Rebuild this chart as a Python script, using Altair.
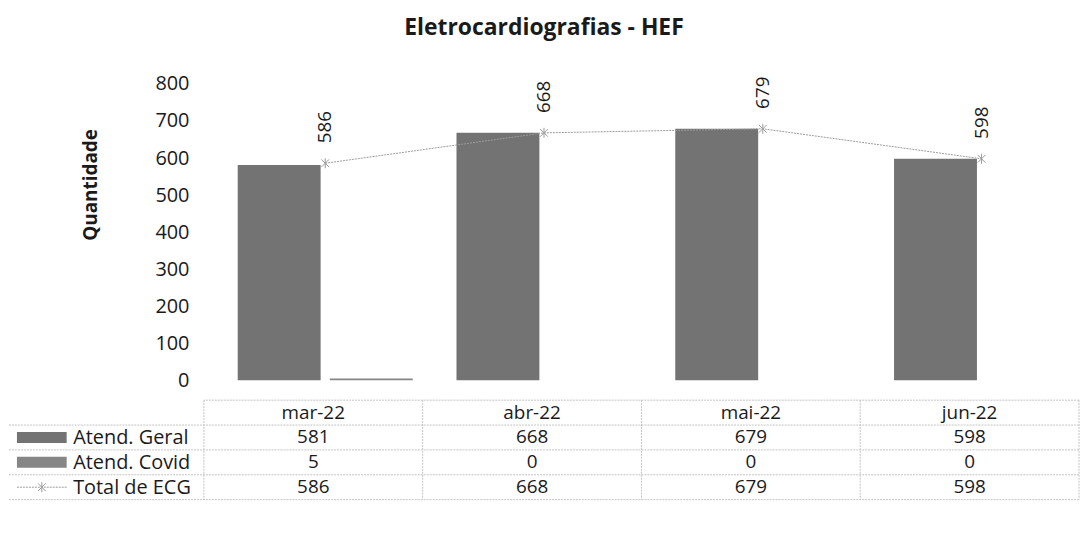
import altair as alt
import pandas as pd

# ---------------- data ----------------
months = ["mar-22", "abr-22", "mai-22", "jun-22"]
geral = [581, 668, 679, 598]
covid = [5, 0, 0, 0]
total = [586, 668, 679, 598]
bar_series = ["Atend. Geral", "Atend. Covid"]
row_names = ["Atend. Geral", "Atend. Covid", "Total de ECG"]
y_ticks = [0, 100, 200, 300, 400, 500, 600, 700, 800]
chart_title = "Eletrocardiografias - HEF"
y_title = "Quantidade"

# ---------------- style ----------------
FONT = "Open Sans"
TXT = "#1a1a1a"
BAR_COLORS = ["#737373", "#868686"]
LINE_COLOR = "#9a9a9a"
GRID = "#c4c4c4"
W = 880
H = 298
ROW_H = 25
SHIFT = 12
STAR = "M-1,-1L1,1M1,-1L-1,1M0,-1.3L0,1.3"

bars_df = pd.DataFrame({
    "month": months * 2,
    "serie": [bar_series[0]] * len(months) + [bar_series[1]] * len(months),
    "value": geral + covid,
})
tot_df = pd.DataFrame({"month": months, "value": total})

x_top = alt.X("month:N", sort=months, axis=None,
              scale=alt.Scale(paddingInner=0.2, paddingOuter=0.1, range=[SHIFT, W + SHIFT]))
y_scale = alt.Scale(domain=[0, 800])
y_axis = alt.Axis(values=y_ticks, domain=False, ticks=False, grid=False,
                  labelFont=FONT, labelFontSize=20, labelColor=TXT, labelPadding=15,
                  title=y_title, titleFont=FONT, titleFontSize=19, titleFontWeight="bold",
                  titleColor=TXT, titleX=-104, titleY=101)

bars = alt.Chart(bars_df).mark_bar().encode(
    x=x_top,
    xOffset=alt.XOffset("serie:N", sort=bar_series, scale=alt.Scale(paddingInner=0.1)),
    y=alt.Y("value:Q", scale=y_scale, axis=y_axis),
    color=alt.Color("serie:N", scale=alt.Scale(domain=bar_series, range=BAR_COLORS), legend=None),
)

line = alt.Chart(tot_df).mark_line(color=LINE_COLOR, strokeWidth=1, strokeDash=[2, 1]).encode(
    x=x_top, y=alt.Y("value:Q", scale=y_scale, axis=y_axis)
)
pts = alt.Chart(tot_df).mark_point(shape=STAR, size=60, stroke=LINE_COLOR, strokeWidth=1,
                                   filled=False, opacity=1).encode(
    x=x_top, y=alt.Y("value:Q", scale=y_scale, axis=y_axis)
)
labels = alt.Chart(tot_df).mark_text(angle=270, align="left", baseline="middle", dx=20,
                                     font=FONT, fontSize=19, color=TXT).encode(
    x=x_top, y=alt.Y("value:Q", scale=y_scale, axis=y_axis), text="value:Q"
)

top = alt.layer(bars, line, pts, labels).properties(width=W, height=H)

# ---------------- data table ----------------
cells = []
for i, m in enumerate(months):
    cells.append({"month": m, "r": 0.5, "txt": m})
    for j, vals in enumerate([geral, covid, total]):
        cells.append({"month": m, "r": j + 1.5, "txt": str(vals[i])})
cells_df = pd.DataFrame(cells)

n_rows = len(row_names) + 1
x_tab = alt.X("month:N", sort=months, axis=None,
              scale=alt.Scale(paddingInner=0, paddingOuter=0))
label_expr = " : ".join(
    [f"datum.value == {j + 1.5} ? '{name}'" for j, name in enumerate(row_names)]
) + " : ''"
y_tab_scale = alt.Scale(domain=[0, n_rows], reverse=True)
y_tab_axis = alt.Axis(values=[j + 1.5 for j in range(len(row_names))], labelExpr=label_expr,
                      domain=False, ticks=False, grid=False, labelAlign="left",
                      labelPadding=132, labelFont=FONT, labelFontSize=20, labelColor=TXT,
                      title=None)

cell_text = alt.Chart(cells_df).mark_text(font=FONT, fontSize=19, color=TXT,
                                          baseline="middle").encode(
    x=x_tab, y=alt.Y("r:Q", scale=y_tab_scale, axis=y_tab_axis), text="txt:N"
)

hl_df = pd.DataFrame({"r": list(range(1, n_rows + 1))})
hlines = alt.Chart(hl_df).mark_rule(color=GRID, strokeWidth=1, strokeDash=[2, 1]).encode(
    y=alt.Y("r:Q", scale=y_tab_scale, axis=y_tab_axis), x=alt.value(-196), x2=alt.value(W)
)
top_df = pd.DataFrame({"r": [0]})
topline = alt.Chart(top_df).mark_rule(color=GRID, strokeWidth=1, strokeDash=[2, 1]).encode(
    y=alt.Y("r:Q", scale=y_tab_scale, axis=y_tab_axis)
)
vl_df = pd.DataFrame({"month": months})
vlines = alt.Chart(vl_df).mark_rule(color=GRID, strokeWidth=1, strokeDash=[2, 1]).encode(
    x=alt.X("month:N", sort=months, axis=None, bandPosition=0,
            scale=alt.Scale(paddingInner=0, paddingOuter=0))
)
rline = alt.Chart(top_df).mark_rule(color=GRID, strokeWidth=1, strokeDash=[2, 1]).encode(
    x=alt.value(W), y=alt.value(0), y2=alt.value(n_rows * ROW_H)
)

key_df = pd.DataFrame({"serie": bar_series, "r": [1.5, 2.5]})
keys = alt.Chart(key_df).mark_rule(strokeWidth=11).encode(
    y=alt.Y("r:Q", scale=y_tab_scale, axis=y_tab_axis),
    x=alt.value(-188), x2=alt.value(-138),
    color=alt.Color("serie:N", scale=alt.Scale(domain=bar_series, range=BAR_COLORS), legend=None),
)
tkey_df = pd.DataFrame({"r": [3.5]})
tkey_line = alt.Chart(tkey_df).mark_rule(color=LINE_COLOR, strokeWidth=1, strokeDash=[2, 1]).encode(
    y=alt.Y("r:Q", scale=y_tab_scale, axis=y_tab_axis), x=alt.value(-188), x2=alt.value(-138)
)
tkey_pt = alt.Chart(tkey_df).mark_point(shape=STAR, size=60, stroke=LINE_COLOR, strokeWidth=1,
                                        filled=False, opacity=1).encode(
    y=alt.Y("r:Q", scale=y_tab_scale, axis=y_tab_axis), x=alt.value(-163)
)

table = alt.layer(hlines, topline, vlines, rline, keys, tkey_line, tkey_pt, cell_text).properties(
    width=W, height=n_rows * ROW_H
)

chart = alt.vconcat(top, table, spacing=9).properties(
    title=alt.TitleParams(chart_title, font=FONT, fontSize=23, fontWeight="bold", color=TXT,
                          anchor="middle", offset=34),
    padding={"left": 0, "top": 8, "right": 0, "bottom": 0},
).configure_view(strokeWidth=0)

chart.save("out.html", embed_options={"renderer": "svg", "actions": False})
